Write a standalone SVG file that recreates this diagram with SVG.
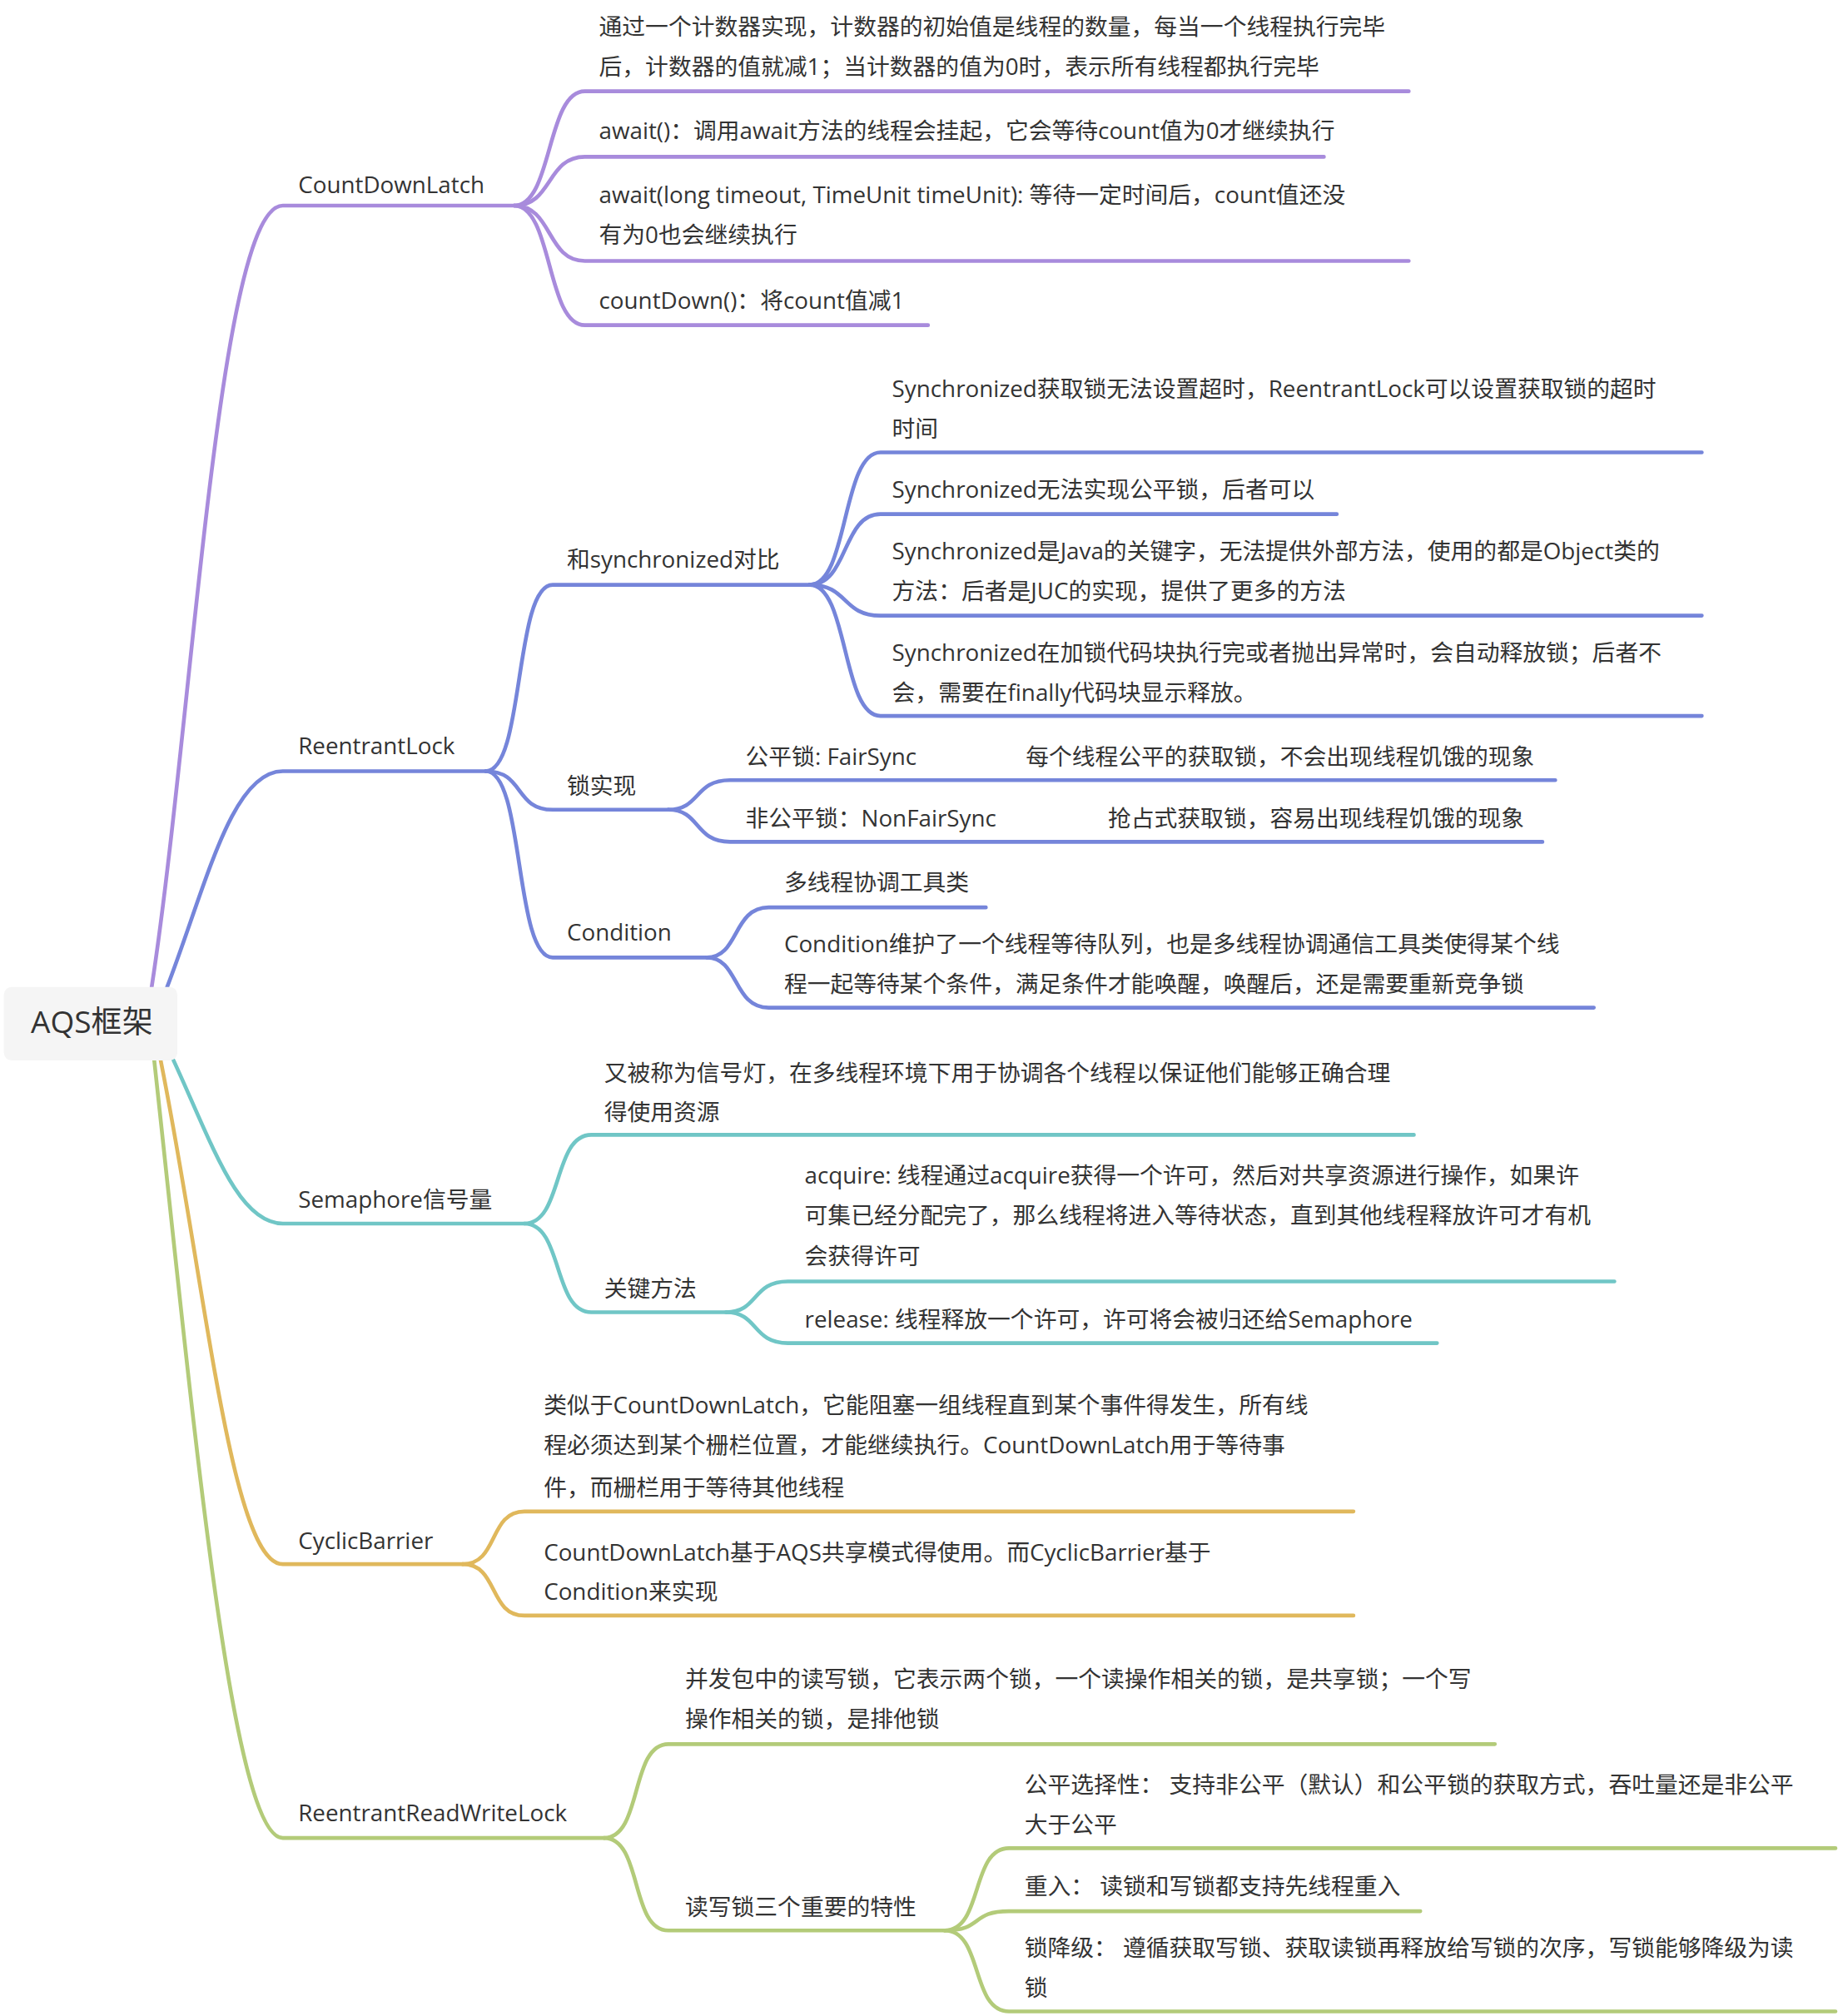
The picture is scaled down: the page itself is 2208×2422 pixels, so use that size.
<svg xmlns="http://www.w3.org/2000/svg" width="2208" height="2422" viewBox="0 0 2208 2422">
<style>
text{font-family:"Open Sans","Noto Sans CJK SC",sans-serif;font-size:18px;fill:#333}
.r{font-size:24px}
path{fill:none;stroke-width:3;stroke-linecap:round}
.p{stroke:#a88bdc}.b{stroke:#7585da}.t{stroke:#70c6c6}.y{stroke:#e0b85c}.g{stroke:#b3cb79}
</style>
<rect width="2208" height="2422" fill="#fff"/>
<g transform="scale(1.5441)">
<g id="connectors">
<path class="p" d="M118,768 C150,560 170,160 220,160 L400,160"/>
<path class="b" d="M130,768 C160,690 180,600 220,600 L378,600"/>
<path class="t" d="M135,825 C165,890 185,952 220,952 L408,952"/>
<path class="y" d="M125,825 C160,1000 180,1217 220,1217 L360,1217"/>
<path class="g" d="M120,825 C150,1100 180,1430 220,1430 L470,1430"/>
<path class="p" d="M400,160 C430,160 425,71 455,71 L1096,71"/>
<path class="p" d="M400,160 C430,160 425,122 455,122 L1030,122"/>
<path class="p" d="M400,160 C430,160 425,203 455,203 L1096,203"/>
<path class="p" d="M400,160 C430,160 425,253 455,253 L722,253"/>
<path class="b" d="M378,600 C408,600 400,455 430,455 L630,455"/>
<path class="b" d="M378,600 C408,600 400,630 430,630 L520,630"/>
<path class="b" d="M378,600 C408,600 400,745 430,745 L550,745"/>
<path class="b" d="M630,455 C660,455 655,352 685,352 L1324,352"/>
<path class="b" d="M630,455 C660,455 655,400 685,400 L1040,400"/>
<path class="b" d="M630,455 C660,455 655,479 685,479 L1324,479"/>
<path class="b" d="M630,455 C660,455 655,557 685,557 L1324,557"/>
<path class="b" d="M520,630 C545,630 540,607 568,607 L1210,607"/>
<path class="b" d="M520,630 C545,630 540,655 568,655 L1200,655"/>
<path class="b" d="M550,745 C575,745 570,706 598,706 L767,706"/>
<path class="b" d="M550,745 C575,745 570,784 598,784 L1240,784"/>
<path class="t" d="M408,952 C438,952 430,883 460,883 L1100,883"/>
<path class="t" d="M408,952 C438,952 430,1021 460,1021 L565,1021"/>
<path class="t" d="M565,1021 C590,1021 585,997 613,997 L1256,997"/>
<path class="t" d="M565,1021 C590,1021 585,1045 613,1045 L1118,1045"/>
<path class="y" d="M360,1217 C388,1217 380,1176 408,1176 L1053,1176"/>
<path class="y" d="M360,1217 C388,1217 380,1257 408,1257 L1053,1257"/>
<path class="g" d="M470,1430 C500,1430 490,1357 520,1357 L1163,1357"/>
<path class="g" d="M470,1430 C500,1430 490,1502 520,1502 L735,1502"/>
<path class="g" d="M735,1502 C765,1502 755,1438 785,1438 L1428,1438"/>
<path class="g" d="M735,1502 C765,1502 755,1487 785,1487 L1105,1487"/>
<path class="g" d="M735,1502 C765,1502 755,1565 785,1565 L1428,1565"/>
</g>
<g id="root"><rect x="3" y="768" width="135" height="57" rx="6" fill="#f5f5f5"/><text class="r" x="24" y="804">AQS框架</text></g>
<g id="cdl"><text x="232" y="150">CountDownLatch</text></g>
<g id="cdl1"><text x="466" y="27">通过一个计数器实现，计数器的初始值是线程的数量，每当一个线程执行完毕</text><text x="466" y="58">后，计数器的值就减1；当计数器的值为0时，表示所有线程都执行完毕</text></g>
<g id="cdl2"><text x="466" y="108">await()：调用await方法的线程会挂起，它会等待count值为0才继续执行</text></g>
<g id="cdl3"><text x="466" y="158">await(long timeout, TimeUnit timeUnit): 等待一定时间后，count值还没</text><text x="466" y="189">有为0也会继续执行</text></g>
<g id="cdl4"><text x="466" y="240">countDown()：将count值减1</text></g>
<g id="rl"><text x="232" y="587">ReentrantLock</text></g>
<g id="cmp"><text x="441" y="442">和synchronized对比</text></g>
<g id="cmp1"><text x="694" y="309">Synchronized获取锁无法设置超时，ReentrantLock可以设置获取锁的超时</text><text x="694" y="340">时间</text></g>
<g id="cmp2"><text x="694" y="387">Synchronized无法实现公平锁，后者可以</text></g>
<g id="cmp3"><text x="694" y="435">Synchronized是Java的关键字，无法提供外部方法，使用的都是Object类的</text><text x="694" y="466">方法：后者是JUC的实现，提供了更多的方法</text></g>
<g id="cmp4"><text x="694" y="514">Synchronized在加锁代码块执行完或者抛出异常时，会自动释放锁；后者不</text><text x="694" y="545">会，需要在finally代码块显示释放。</text></g>
<g id="lock"><text x="441" y="618">锁实现</text></g>
<g id="fair"><text x="580" y="595">公平锁: FairSync</text><text x="798" y="595">每个线程公平的获取锁，不会出现线程饥饿的现象</text></g>
<g id="nonfair"><text x="580" y="643">非公平锁：NonFairSync</text><text x="862" y="643">抢占式获取锁，容易出现线程饥饿的现象</text></g>
<g id="cond"><text x="441" y="732">Condition</text></g>
<g id="cond1"><text x="610" y="693">多线程协调工具类</text></g>
<g id="cond2"><text x="610" y="741">Condition维护了一个线程等待队列，也是多线程协调通信工具类使得某个线</text><text x="610" y="772">程一起等待某个条件，满足条件才能唤醒，唤醒后，还是需要重新竞争锁</text></g>
<g id="sem"><text x="232" y="940">Semaphore信号量</text></g>
<g id="sem1"><text x="470" y="841">又被称为信号灯，在多线程环境下用于协调各个线程以保证他们能够正确合理</text><text x="470" y="872">得使用资源</text></g>
<g id="key"><text x="470" y="1009">关键方法</text></g>
<g id="acq"><text x="626" y="921">acquire: 线程通过acquire获得一个许可，然后对共享资源进行操作，如果许</text><text x="626" y="952">可集已经分配完了，那么线程将进入等待状态，直到其他线程释放许可才有机</text><text x="626" y="984">会获得许可</text></g>
<g id="rel"><text x="626" y="1033">release: 线程释放一个许可，许可将会被归还给Semaphore</text></g>
<g id="cb"><text x="232" y="1205">CyclicBarrier</text></g>
<g id="cb1"><text x="423" y="1100">类似于CountDownLatch，它能阻塞一组线程直到某个事件得发生，所有线</text><text x="423" y="1131">程必须达到某个栅栏位置，才能继续执行。CountDownLatch用于等待事</text><text x="423" y="1164">件，而栅栏用于等待其他线程</text></g>
<g id="cb2"><text x="423" y="1214">CountDownLatch基于AQS共享模式得使用。而CyclicBarrier基于</text><text x="423" y="1245">Condition来实现</text></g>
<g id="rrwl"><text x="232" y="1417">ReentrantReadWriteLock</text></g>
<g id="rrwl1"><text x="533" y="1313">并发包中的读写锁，它表示两个锁，一个读操作相关的锁，是共享锁；一个写</text><text x="533" y="1344">操作相关的锁，是排他锁</text></g>
<g id="feat"><text x="533" y="1490">读写锁三个重要的特性</text></g>
<g id="f1"><text x="797" y="1395">公平选择性： 支持非公平（默认）和公平锁的获取方式，吞吐量还是非公平</text><text x="797" y="1426">大于公平</text></g>
<g id="f2"><text x="797" y="1474">重入： 读锁和写锁都支持先线程重入</text></g>
<g id="f3"><text x="797" y="1522">锁降级： 遵循获取写锁、获取读锁再释放给写锁的次序，写锁能够降级为读</text><text x="797" y="1553">锁</text></g>
</g>
</svg>
